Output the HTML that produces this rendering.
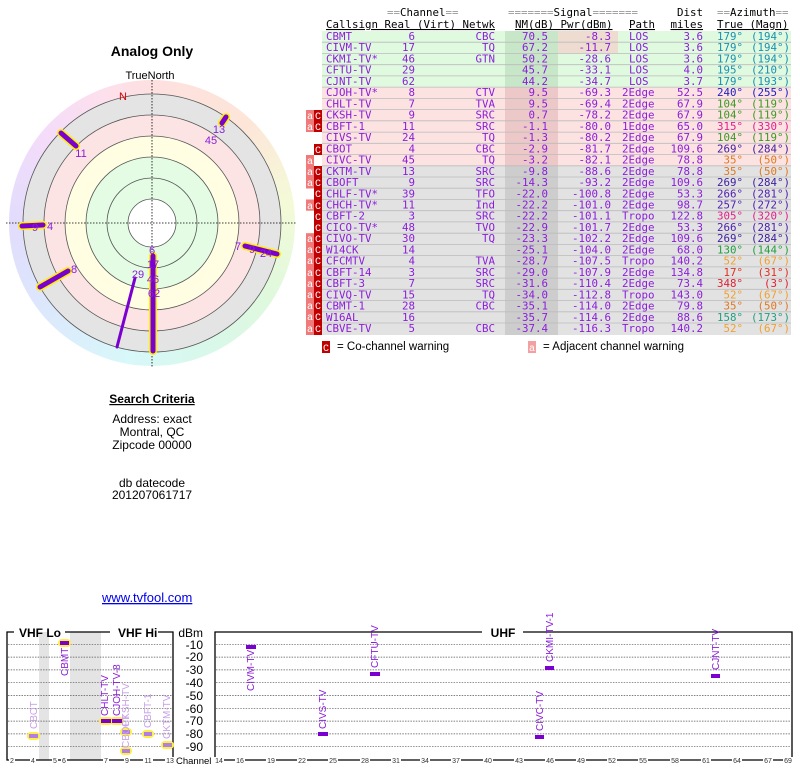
<!DOCTYPE html>
<html><head><meta charset="utf-8"><style>
body{margin:0;background:#fff;width:800px;height:768px;overflow:hidden;position:relative;font-family:"Liberation Sans",sans-serif}
#rim{position:absolute;left:9px;top:80px;width:286px;height:286px;border-radius:50%;background:conic-gradient(#fde0e0,#fde6d8 45deg,#f4fad8 80deg,#e0f9dc 120deg,#d8f8ec 160deg,#d8f8fa 190deg,#dce8fc 230deg,#e2dcfc 270deg,#f4dcfa 310deg,#fde0ec 340deg,#fde0e0)}
svg{position:absolute;left:0;top:0}
.t{font-family:"DejaVu Sans Mono","Liberation Mono",monospace;font-size:10.8px;fill:#8b1ddb}
.h{font-family:"DejaVu Sans Mono","Liberation Mono",monospace;font-size:10.8px;fill:#000}
.g{fill:#999}
.e{text-anchor:end}
.p{font-size:11px;fill:#8b1ddb;font-family:"Liberation Sans",sans-serif}
.ax{font-size:7px;fill:#333}
</style></head><body>
<div id="rim"></div>
<svg width="800" height="768" viewBox="0 0 800 768">
<circle cx="152" cy="223" r="129" fill="#e4e4e4"/>
<circle cx="152" cy="223" r="108" fill="#fde4e4"/>
<circle cx="152" cy="223" r="87" fill="#fffde2"/>
<circle cx="152" cy="223" r="66" fill="#e4fce4"/>
<circle cx="152" cy="223" r="24" fill="#fff"/>
<g fill="none" stroke="#555" stroke-width="0.8">
<circle cx="152" cy="223" r="129"/><circle cx="152" cy="223" r="108"/><circle cx="152" cy="223" r="87"/><circle cx="152" cy="223" r="66"/><circle cx="152" cy="223" r="45"/><circle cx="152" cy="223" r="24"/></g>
<g stroke="#000" stroke-width="0.8" stroke-dasharray="1.5,1.5"><line x1="6" y1="223" x2="297" y2="223"/><line x1="152" y1="80" x2="152" y2="367"/></g>
<text x="152" y="56" font-size="14" font-weight="bold" text-anchor="middle">Analog Only</text>
<text x="150" y="79" font-size="11" text-anchor="middle">TrueNorth</text>
<text x="123" y="100" font-size="11" fill="#d00000" text-anchor="middle">N</text>
<g stroke-linecap="round">
<g stroke="#ffee00" stroke-width="8"><line x1="153" y1="256" x2="153" y2="351"/><line x1="68" y1="271" x2="40" y2="287"/><line x1="61" y1="133" x2="76" y2="146"/><line x1="222" y1="123" x2="226" y2="117"/><line x1="22" y1="226" x2="43" y2="225"/><line x1="245" y1="246" x2="277" y2="254"/></g>
<g stroke="#7a00d0" stroke-width="5"><line x1="153" y1="256" x2="153" y2="351"/><line x1="68" y1="271" x2="40" y2="287"/><line x1="61" y1="133" x2="76" y2="146"/><line x1="222" y1="123" x2="226" y2="117"/><line x1="22" y1="226" x2="43" y2="225"/><line x1="245" y1="246" x2="277" y2="254"/></g>
<line x1="135" y1="278" x2="117" y2="347" stroke="#7a00d0" stroke-width="3"/>
</g>
<g class="p" text-anchor="middle">
<text x="152" y="254">6</text><text x="153" y="268">17</text><text x="153" y="283">46</text><text x="154" y="297">62</text><text x="138" y="278">29</text><text x="74" y="273">8</text><text x="81" y="157">11</text><text x="219" y="133">13</text><text x="211" y="144">45</text><text x="35" y="231">9</text><text x="50" y="230">4</text><text x="238" y="250">7</text><text x="252" y="253">9</text><text x="266" y="257">24</text></g>
<g font-size="12" text-anchor="middle">
<text x="152" y="403" font-weight="bold" text-decoration="underline">Search Criteria</text>
<text x="152" y="423">Address: exact</text><text x="152" y="436">Montral, QC</text><text x="152" y="449">Zipcode 00000</text>
<text x="152" y="487">db datecode</text><text x="152" y="499">201207061717</text></g>
<text x="102" y="602" font-size="13" fill="#0000ee" text-decoration="underline">www.tvfool.com</text>
<rect x="322" y="31" width="469" height="56" fill="#e0fae0"/>
<rect x="322" y="87" width="469" height="79" fill="#fde2e2"/>
<rect x="322" y="166" width="469" height="169" fill="#e2e2e2"/>
<rect x="505" y="31" width="53" height="56" fill="#c8e6c8"/>
<rect x="505" y="87" width="53" height="79" fill="#ecc8c8"/>
<rect x="505" y="166" width="53" height="169" fill="#cdcdcd"/>
<rect x="558" y="31" width="60" height="22" fill="#eddccf"/>
<g stroke="#bbb" stroke-width="0.8">
<line x1="322" x2="791" y1="42.2" y2="42.2"/><line x1="322" x2="791" y1="53.5" y2="53.5"/><line x1="322" x2="791" y1="64.7" y2="64.7"/><line x1="322" x2="791" y1="75.9" y2="75.9"/><line x1="322" x2="791" y1="87.1" y2="87.1"/><line x1="322" x2="791" y1="98.4" y2="98.4"/><line x1="322" x2="791" y1="109.6" y2="109.6"/><line x1="322" x2="791" y1="120.8" y2="120.8"/><line x1="322" x2="791" y1="132.1" y2="132.1"/><line x1="322" x2="791" y1="143.3" y2="143.3"/><line x1="322" x2="791" y1="154.5" y2="154.5"/><line x1="322" x2="791" y1="165.8" y2="165.8"/><line x1="322" x2="791" y1="177" y2="177"/><line x1="322" x2="791" y1="188.2" y2="188.2"/><line x1="322" x2="791" y1="199.5" y2="199.5"/><line x1="322" x2="791" y1="210.7" y2="210.7"/><line x1="322" x2="791" y1="221.9" y2="221.9"/><line x1="322" x2="791" y1="233.2" y2="233.2"/><line x1="322" x2="791" y1="244.4" y2="244.4"/><line x1="322" x2="791" y1="255.6" y2="255.6"/><line x1="322" x2="791" y1="266.9" y2="266.9"/><line x1="322" x2="791" y1="278.1" y2="278.1"/><line x1="322" x2="791" y1="289.3" y2="289.3"/><line x1="322" x2="791" y1="300.6" y2="300.6"/><line x1="322" x2="791" y1="311.8" y2="311.8"/><line x1="322" x2="791" y1="323" y2="323"/></g>
<text class="h" x="387" y="16"><tspan class="g">==</tspan>Channel<tspan class="g">==</tspan></text>
<text class="h" x="508" y="16"><tspan class="g">=======</tspan>Signal<tspan class="g">=======</tspan></text>
<text class="h e" x="703" y="16">Dist</text>
<text class="h" x="717" y="16"><tspan class="g">==</tspan>Azimuth<tspan class="g">==</tspan></text>
<text class="h" x="326" y="28" text-decoration="underline">Callsign Real (Virt) Netwk</text>
<text class="h" x="515" y="28" text-decoration="underline">NM(dB) Pwr(dBm)</text>
<text class="h" x="629" y="28" text-decoration="underline">Path</text>
<text class="h e" x="703" y="28" text-decoration="underline">miles</text>
<text class="h" x="717" y="28" text-decoration="underline">True (Magn)</text>
<g>
<rect x="306" y="110" width="8" height="11" fill="#f07a7a"/><rect x="314" y="110" width="8" height="11" fill="#c00000"/>
<rect x="306" y="121" width="8" height="11" fill="#f07a7a"/><rect x="314" y="121" width="8" height="11" fill="#c00000"/>
<rect x="314" y="144" width="8" height="11" fill="#c00000"/>
<rect x="306" y="155" width="8" height="11" fill="#f07a7a"/>
<rect x="306" y="166" width="8" height="169" fill="#f07a7a"/><rect x="314" y="166" width="8" height="169" fill="#c00000"/>
<rect x="306" y="188.5" width="8" height="11" fill="#fff"/><rect x="306" y="210.7" width="8" height="22.5" fill="#fff"/>
<rect x="322" y="341" width="8" height="12" fill="#c00000"/><rect x="528" y="341" width="8" height="12" fill="#f4a0a0"/>
</g>
<g font-family="Liberation Mono,monospace" font-size="10" fill="#fff" text-anchor="middle">
<text x="310" y="119">a</text><text x="318" y="119">C</text><text x="310" y="130">a</text><text x="318" y="130">C</text><text x="318" y="153">C</text><text x="310" y="164">a</text>
<text x="310" y="175">a</text><text x="318" y="175">C</text><text x="310" y="186">a</text><text x="318" y="186">C</text><text x="318" y="197">C</text><text x="310" y="209">a</text><text x="318" y="209">C</text><text x="318" y="220">C</text><text x="318" y="231">C</text>
<text x="310" y="253">a</text><text x="318" y="253">C</text><text x="310" y="264">a</text><text x="318" y="264">C</text><text x="310" y="276">a</text><text x="318" y="276">C</text><text x="310" y="287">a</text><text x="318" y="287">C</text><text x="310" y="298">a</text><text x="318" y="298">C</text><text x="310" y="309">a</text><text x="318" y="309">C</text><text x="310" y="320">a</text><text x="318" y="320">C</text><text x="310" y="332">a</text><text x="318" y="332">C</text><text x="310" y="242">a</text><text x="318" y="242">C</text>
<text x="326" y="351">C</text><text x="532" y="351">a</text></g>
<text x="337" y="350" font-size="11.5">= Co-channel warning</text>
<text x="543" y="350" font-size="11.5">= Adjacent channel warning</text>
<g class="t">
<g transform="translate(0,40)"><text x="326">CBMT</text><text class="e" x="415">6</text><text class="e" x="495">CBC</text><text class="e" x="548">70.5</text><text class="e" x="611">-8.3</text><text x="629">LOS</text><text class="e" x="703">3.6</text><text class="e" x="743" fill="#1a8fb0">179°</text><text class="e" x="790" fill="#1a8fb0">(194°)</text></g>
<g transform="translate(0,51.2)"><text x="326">CIVM-TV</text><text class="e" x="415">17</text><text class="e" x="495">TQ</text><text class="e" x="548">67.2</text><text class="e" x="611">-11.7</text><text x="629">LOS</text><text class="e" x="703">3.6</text><text class="e" x="743" fill="#1a8fb0">179°</text><text class="e" x="790" fill="#1a8fb0">(194°)</text></g>
<g transform="translate(0,62.5)"><text x="326">CKMI-TV*</text><text class="e" x="415">46</text><text class="e" x="495">GTN</text><text class="e" x="548">50.2</text><text class="e" x="611">-28.6</text><text x="629">LOS</text><text class="e" x="703">3.6</text><text class="e" x="743" fill="#1a8fb0">179°</text><text class="e" x="790" fill="#1a8fb0">(194°)</text></g>
<g transform="translate(0,73.7)"><text x="326">CFTU-TV</text><text class="e" x="415">29</text><text class="e" x="548">45.7</text><text class="e" x="611">-33.1</text><text x="629">LOS</text><text class="e" x="703">4.0</text><text class="e" x="743" fill="#1a8fb0">195°</text><text class="e" x="790" fill="#1a8fb0">(210°)</text></g>
<g transform="translate(0,84.9)"><text x="326">CJNT-TV</text><text class="e" x="415">62</text><text class="e" x="548">44.2</text><text class="e" x="611">-34.7</text><text x="629">LOS</text><text class="e" x="703">3.7</text><text class="e" x="743" fill="#1a8fb0">179°</text><text class="e" x="790" fill="#1a8fb0">(193°)</text></g>
<g transform="translate(0,96.2)"><text x="326">CJOH-TV*</text><text class="e" x="415">8</text><text class="e" x="495">CTV</text><text class="e" x="548">9.5</text><text class="e" x="611">-69.3</text><text x="622">2Edge</text><text class="e" x="703">52.5</text><text class="e" x="743" fill="#2020c0">240°</text><text class="e" x="790" fill="#2020c0">(255°)</text></g>
<g transform="translate(0,107.4)"><text x="326">CHLT-TV</text><text class="e" x="415">7</text><text class="e" x="495">TVA</text><text class="e" x="548">9.5</text><text class="e" x="611">-69.4</text><text x="622">2Edge</text><text class="e" x="703">67.9</text><text class="e" x="743" fill="#3a9a20">104°</text><text class="e" x="790" fill="#3a9a20">(119°)</text></g>
<g transform="translate(0,118.6)"><text x="326">CKSH-TV</text><text class="e" x="415">9</text><text class="e" x="495">SRC</text><text class="e" x="548">0.7</text><text class="e" x="611">-78.2</text><text x="622">2Edge</text><text class="e" x="703">67.9</text><text class="e" x="743" fill="#3a9a20">104°</text><text class="e" x="790" fill="#3a9a20">(119°)</text></g>
<g transform="translate(0,129.9)"><text x="326">CBFT-1</text><text class="e" x="415">11</text><text class="e" x="495">SRC</text><text class="e" x="548">-1.1</text><text class="e" x="611">-80.0</text><text x="622">1Edge</text><text class="e" x="703">65.0</text><text class="e" x="743" fill="#e0208a">315°</text><text class="e" x="790" fill="#e0208a">(330°)</text></g>
<g transform="translate(0,141.1)"><text x="326">CIVS-TV</text><text class="e" x="415">24</text><text class="e" x="495">TQ</text><text class="e" x="548">-1.3</text><text class="e" x="611">-80.2</text><text x="622">2Edge</text><text class="e" x="703">67.9</text><text class="e" x="743" fill="#3a9a20">104°</text><text class="e" x="790" fill="#3a9a20">(119°)</text></g>
<g transform="translate(0,152.3)"><text x="326">CBOT</text><text class="e" x="415">4</text><text class="e" x="495">CBC</text><text class="e" x="548">-2.9</text><text class="e" x="611">-81.7</text><text x="622">2Edge</text><text class="e" x="703">109.6</text><text class="e" x="743" fill="#4020a0">269°</text><text class="e" x="790" fill="#4020a0">(284°)</text></g>
<g transform="translate(0,163.6)"><text x="326">CIVC-TV</text><text class="e" x="415">45</text><text class="e" x="495">TQ</text><text class="e" x="548">-3.2</text><text class="e" x="611">-82.1</text><text x="622">2Edge</text><text class="e" x="703">78.8</text><text class="e" x="743" fill="#e07820">35°</text><text class="e" x="790" fill="#e07820">(50°)</text></g>
<g transform="translate(0,174.8)"><text x="326">CKTM-TV</text><text class="e" x="415">13</text><text class="e" x="495">SRC</text><text class="e" x="548">-9.8</text><text class="e" x="611">-88.6</text><text x="622">2Edge</text><text class="e" x="703">78.8</text><text class="e" x="743" fill="#e07820">35°</text><text class="e" x="790" fill="#e07820">(50°)</text></g>
<g transform="translate(0,186)"><text x="326">CBOFT</text><text class="e" x="415">9</text><text class="e" x="495">SRC</text><text class="e" x="548">-14.3</text><text class="e" x="611">-93.2</text><text x="622">2Edge</text><text class="e" x="703">109.6</text><text class="e" x="743" fill="#4020a0">269°</text><text class="e" x="790" fill="#4020a0">(284°)</text></g>
<g transform="translate(0,197.3)"><text x="326">CHLF-TV*</text><text class="e" x="415">39</text><text class="e" x="495">TFO</text><text class="e" x="548">-22.0</text><text class="e" x="611">-100.8</text><text x="622">2Edge</text><text class="e" x="703">53.3</text><text class="e" x="743" fill="#5020b0">266°</text><text class="e" x="790" fill="#5020b0">(281°)</text></g>
<g transform="translate(0,208.5)"><text x="326">CHCH-TV*</text><text class="e" x="415">11</text><text class="e" x="495">Ind</text><text class="e" x="548">-22.2</text><text class="e" x="611">-101.0</text><text x="622">2Edge</text><text class="e" x="703">98.7</text><text class="e" x="743" fill="#5020b0">257°</text><text class="e" x="790" fill="#5020b0">(272°)</text></g>
<g transform="translate(0,219.7)"><text x="326">CBFT-2</text><text class="e" x="415">3</text><text class="e" x="495">SRC</text><text class="e" x="548">-22.2</text><text class="e" x="611">-101.1</text><text x="622">Tropo</text><text class="e" x="703">122.8</text><text class="e" x="743" fill="#e0208a">305°</text><text class="e" x="790" fill="#e0208a">(320°)</text></g>
<g transform="translate(0,231)"><text x="326">CICO-TV*</text><text class="e" x="415">48</text><text class="e" x="495">TVO</text><text class="e" x="548">-22.9</text><text class="e" x="611">-101.7</text><text x="622">2Edge</text><text class="e" x="703">53.3</text><text class="e" x="743" fill="#5020b0">266°</text><text class="e" x="790" fill="#5020b0">(281°)</text></g>
<g transform="translate(0,242.2)"><text x="326">CIVO-TV</text><text class="e" x="415">30</text><text class="e" x="495">TQ</text><text class="e" x="548">-23.3</text><text class="e" x="611">-102.2</text><text x="622">2Edge</text><text class="e" x="703">109.6</text><text class="e" x="743" fill="#4020a0">269°</text><text class="e" x="790" fill="#4020a0">(284°)</text></g>
<g transform="translate(0,253.4)"><text x="326">W14CK</text><text class="e" x="415">14</text><text class="e" x="548">-25.1</text><text class="e" x="611">-104.0</text><text x="622">2Edge</text><text class="e" x="703">68.0</text><text class="e" x="743" fill="#20a040">130°</text><text class="e" x="790" fill="#20a040">(144°)</text></g>
<g transform="translate(0,264.7)"><text x="326">CFCMTV</text><text class="e" x="415">4</text><text class="e" x="495">TVA</text><text class="e" x="548">-28.7</text><text class="e" x="611">-107.5</text><text x="622">Tropo</text><text class="e" x="703">140.2</text><text class="e" x="743" fill="#f0a030">52°</text><text class="e" x="790" fill="#f0a030">(67°)</text></g>
<g transform="translate(0,275.9)"><text x="326">CBFT-14</text><text class="e" x="415">3</text><text class="e" x="495">SRC</text><text class="e" x="548">-29.0</text><text class="e" x="611">-107.9</text><text x="622">2Edge</text><text class="e" x="703">134.8</text><text class="e" x="743" fill="#e03020">17°</text><text class="e" x="790" fill="#e03020">(31°)</text></g>
<g transform="translate(0,287.1)"><text x="326">CBFT-3</text><text class="e" x="415">7</text><text class="e" x="495">SRC</text><text class="e" x="548">-31.6</text><text class="e" x="611">-110.4</text><text x="622">2Edge</text><text class="e" x="703">73.4</text><text class="e" x="743" fill="#e02030">348°</text><text class="e" x="790" fill="#e02030">(3°)</text></g>
<g transform="translate(0,298.4)"><text x="326">CIVQ-TV</text><text class="e" x="415">15</text><text class="e" x="495">TQ</text><text class="e" x="548">-34.0</text><text class="e" x="611">-112.8</text><text x="622">Tropo</text><text class="e" x="703">143.0</text><text class="e" x="743" fill="#f0a030">52°</text><text class="e" x="790" fill="#f0a030">(67°)</text></g>
<g transform="translate(0,309.6)"><text x="326">CBMT-1</text><text class="e" x="415">28</text><text class="e" x="495">CBC</text><text class="e" x="548">-35.1</text><text class="e" x="611">-114.0</text><text x="622">2Edge</text><text class="e" x="703">79.8</text><text class="e" x="743" fill="#e07820">35°</text><text class="e" x="790" fill="#e07820">(50°)</text></g>
<g transform="translate(0,320.8)"><text x="326">W16AL</text><text class="e" x="415">16</text><text class="e" x="548">-35.7</text><text class="e" x="611">-114.6</text><text x="622">2Edge</text><text class="e" x="703">88.6</text><text class="e" x="743" fill="#20a080">158°</text><text class="e" x="790" fill="#20a080">(173°)</text></g>
<g transform="translate(0,332.1)"><text x="326">CBVE-TV</text><text class="e" x="415">5</text><text class="e" x="495">CBC</text><text class="e" x="548">-37.4</text><text class="e" x="611">-116.3</text><text x="622">Tropo</text><text class="e" x="703">140.2</text><text class="e" x="743" fill="#f0a030">52°</text><text class="e" x="790" fill="#f0a030">(67°)</text></g>
</g>
<rect x="39" y="632" width="10" height="128" fill="#e4e4e4"/>
<rect x="70" y="632" width="31" height="128" fill="#e4e4e4"/>
<g stroke="#555" stroke-width="0.7" stroke-dasharray="1.5,1.2">
<line x1="8" x2="172" y1="644.3" y2="644.3"/><line x1="8" x2="172" y1="657.1" y2="657.1"/><line x1="8" x2="172" y1="669.9" y2="669.9"/><line x1="8" x2="172" y1="682.7" y2="682.7"/><line x1="8" x2="172" y1="695.5" y2="695.5"/><line x1="8" x2="172" y1="708.3" y2="708.3"/><line x1="8" x2="172" y1="721.1" y2="721.1"/><line x1="8" x2="172" y1="733.9" y2="733.9"/><line x1="8" x2="172" y1="746.7" y2="746.7"/>
<line x1="216" x2="791" y1="644.3" y2="644.3"/><line x1="216" x2="791" y1="657.1" y2="657.1"/><line x1="216" x2="791" y1="669.9" y2="669.9"/><line x1="216" x2="791" y1="682.7" y2="682.7"/><line x1="216" x2="791" y1="695.5" y2="695.5"/><line x1="216" x2="791" y1="708.3" y2="708.3"/><line x1="216" x2="791" y1="721.1" y2="721.1"/><line x1="216" x2="791" y1="733.9" y2="733.9"/><line x1="216" x2="791" y1="746.7" y2="746.7"/></g>
<g stroke="#000" stroke-width="1.3" fill="none">
<polyline points="14,632 7,632 7,760 173,760 173,632 158,632"/>
<line x1="65" y1="632" x2="110" y2="632"/>
<polyline points="482,632 215,632 215,760 792,760 792,632 523,632"/></g>
<g font-size="12" font-weight="bold"><text x="19" y="637">VHF Lo</text><text x="118" y="637">VHF Hi</text><text x="503" y="637" text-anchor="middle">UHF</text></g>
<g font-size="12" text-anchor="end"><text x="203" y="637">dBm</text><text x="203" y="649">-10</text><text x="203" y="661">-20</text><text x="203" y="674">-30</text><text x="203" y="687">-40</text><text x="203" y="700">-50</text><text x="203" y="713">-60</text><text x="203" y="725">-70</text><text x="203" y="738">-80</text><text x="203" y="751">-90</text></g>
<text x="176" y="764" font-size="9.5">Channel</text>
<g class="ax" text-anchor="middle">
<rect x="9" y="757" width="6" height="7" fill="#fff"/><text x="12" y="763">2</text>
<rect x="30" y="757" width="6" height="7" fill="#fff"/><text x="33" y="763">4</text>
<rect x="52" y="757" width="6" height="7" fill="#fff"/><text x="55" y="763">5</text>
<rect x="61" y="757" width="6" height="7" fill="#fff"/><text x="64" y="763">6</text>
<rect x="103" y="757" width="6" height="7" fill="#fff"/><text x="106" y="763">7</text>
<rect x="124" y="757" width="6" height="7" fill="#fff"/><text x="127" y="763">9</text>
<rect x="143" y="757" width="10" height="7" fill="#fff"/><text x="148" y="763">11</text>
<rect x="165" y="757" width="10" height="7" fill="#fff"/><text x="170" y="763">13</text>
<rect x="214" y="757" width="10" height="7" fill="#fff"/><text x="219" y="763">14</text>
<rect x="235" y="757" width="10" height="7" fill="#fff"/><text x="240" y="763">16</text>
<rect x="266" y="757" width="10" height="7" fill="#fff"/><text x="271" y="763">19</text>
<rect x="297" y="757" width="10" height="7" fill="#fff"/><text x="302" y="763">22</text>
<rect x="328" y="757" width="10" height="7" fill="#fff"/><text x="333" y="763">25</text>
<rect x="360" y="757" width="10" height="7" fill="#fff"/><text x="365" y="763">28</text>
<rect x="391" y="757" width="10" height="7" fill="#fff"/><text x="396" y="763">31</text>
<rect x="420" y="757" width="10" height="7" fill="#fff"/><text x="425" y="763">34</text>
<rect x="451" y="757" width="10" height="7" fill="#fff"/><text x="456" y="763">37</text>
<rect x="483" y="757" width="10" height="7" fill="#fff"/><text x="488" y="763">40</text>
<rect x="514" y="757" width="10" height="7" fill="#fff"/><text x="519" y="763">43</text>
<rect x="545" y="757" width="10" height="7" fill="#fff"/><text x="550" y="763">46</text>
<rect x="576" y="757" width="10" height="7" fill="#fff"/><text x="581" y="763">49</text>
<rect x="607" y="757" width="10" height="7" fill="#fff"/><text x="612" y="763">52</text>
<rect x="638" y="757" width="10" height="7" fill="#fff"/><text x="643" y="763">55</text>
<rect x="670" y="757" width="10" height="7" fill="#fff"/><text x="675" y="763">58</text>
<rect x="701" y="757" width="10" height="7" fill="#fff"/><text x="706" y="763">61</text>
<rect x="732" y="757" width="10" height="7" fill="#fff"/><text x="737" y="763">64</text>
<rect x="763" y="757" width="10" height="7" fill="#fff"/><text x="768" y="763">67</text>
<rect x="783" y="757" width="10" height="7" fill="#fff"/><text x="788" y="763">69</text></g>
<g fill="#ffee44"><rect x="27" y="732" width="13" height="8" rx="4"/><rect x="58" y="639" width="13" height="8" rx="4"/><rect x="99" y="717" width="14" height="8" rx="4"/><rect x="110" y="717" width="14" height="8" rx="4"/><rect x="120" y="728" width="12" height="8" rx="4"/><rect x="120" y="747" width="12" height="8" rx="4"/><rect x="142" y="730" width="12" height="8" rx="4"/><rect x="161" y="741" width="13" height="8" rx="4"/></g>
<g fill="#7a00d0"><rect x="60" y="641" width="9" height="4"/><rect x="101" y="719" width="10" height="4"/><rect x="112" y="719" width="10" height="4"/><rect x="246" y="645" width="10" height="4"/><rect x="318" y="732" width="10" height="4"/><rect x="370" y="672" width="10" height="4"/><rect x="545" y="666" width="9" height="4"/><rect x="535" y="735" width="9" height="4"/><rect x="711" y="674" width="9" height="4"/></g>
<g fill="#b080e0"><rect x="29" y="734" width="9" height="4"/><rect x="122" y="730" width="8" height="4"/><rect x="122" y="749" width="8" height="4"/><rect x="144" y="732" width="8" height="4"/><rect x="163" y="743" width="9" height="4"/></g>
<g font-size="10" fill="#8b1ddb">
<text transform="translate(37,729) rotate(-90)" fill="#c8a0e8">CBOT</text>
<text transform="translate(68,676) rotate(-90)">CBMT</text>
<text transform="translate(108,716) rotate(-90)">CHLT-TV</text>
<text transform="translate(120,716) rotate(-90)">CJOH-TV-8</text>
<text transform="translate(129,748) rotate(-90)" fill="#c8a0e8">CBOFT</text>
<text transform="translate(129,727) rotate(-90)" fill="#c8a0e8">CKSH-TV</text>
<text transform="translate(151,728) rotate(-90)" fill="#c8a0e8">CBFT-1</text>
<text transform="translate(170,739) rotate(-90)" fill="#c8a0e8">CKTM-TV</text>
<text transform="translate(254,691) rotate(-90)">CIVM-TV</text>
<text transform="translate(326,729) rotate(-90)">CIVS-TV</text>
<text transform="translate(378,668) rotate(-90)">CFTU-TV</text>
<text transform="translate(553,662) rotate(-90)">CKMI-TV-1</text>
<text transform="translate(543,731) rotate(-90)">CIVC-TV</text>
<text transform="translate(719,670) rotate(-90)">CJNT-TV</text>
</g>
</svg>
</body></html>
